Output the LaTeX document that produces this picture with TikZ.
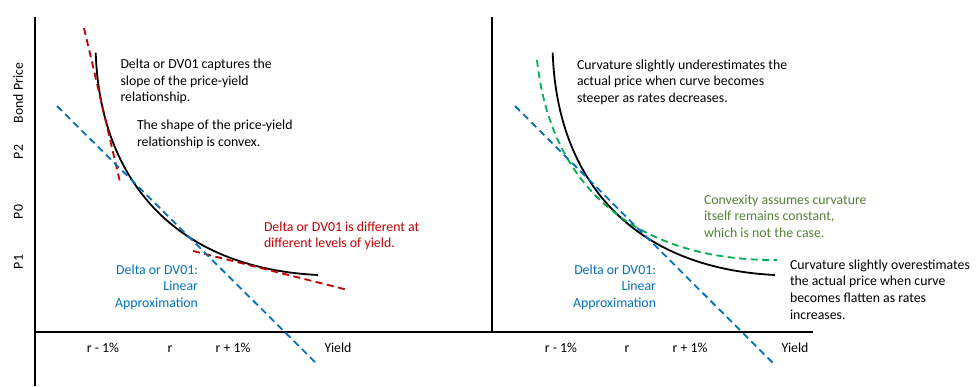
\documentclass[tikz,border=0pt]{standalone}
\usepackage{fontspec}
\setmainfont{Carlito}
\definecolor{dred}{HTML}{C00000}
\definecolor{dblue}{HTML}{0070C0}
\definecolor{dgreen}{HTML}{00B050}
\definecolor{tgreen}{HTML}{538135}
\newcommand{\mlinesl}[1]{\begin{tabular}[t]{@{}l@{}}#1\end{tabular}}
\tikzset{
  axisline/.style={line width=1.8pt, black},
  bondline/.style={line width=1.8pt, black},
  tangent/.style={line width=1.8pt, dash pattern=on 7pt off 4.5pt},
  lbl/.style={inner sep=0pt, outer sep=0pt, font=\fontsize{13.8}{16.8}\selectfont},
}
\begin{document}
\begin{tikzpicture}[x=1pt,y=-1pt]
\useasboundingbox (0,0) rectangle (980,386);
\fill[white] (0,0) rectangle (980,386);
% axes
\draw[axisline] (35,17) -- (35,386);
\draw[axisline] (35,332) -- (813,332);
\draw[axisline] (492,17) -- (492,332);
% left panel curves
\draw[bondline] (95.7,52.7) .. controls (100,180) and (175,268) .. (318,275);
\draw[tangent, dred] (84,28) -- (120,182);
\draw[tangent, dred] (193,251) -- (348,290);
\draw[tangent, dblue] (57,106) -- (318,365);
% right panel curves
\draw[bondline] (552.7,52.7) .. controls (557,180) and (632,268) .. (775,275);
\draw[tangent, dgreen] (537,60) .. controls (552,200) and (650,261) .. (777,260);
\draw[tangent, dblue] (515,106) -- (775,365);
% y labels
\node[lbl, rotate=90, anchor=base] (bp) at (23,93) {Bond Price};
\node[lbl, rotate=90, anchor=base] (p2) at (23,152) {P2};
\node[lbl, rotate=90, anchor=base] (p0) at (23,212) {P0};
\node[lbl, rotate=90, anchor=base] (p1) at (23,262) {P1};
% x labels left
\node[lbl, anchor=base] (lrm) at (103,352) {r - 1\%};
\node[lbl, anchor=base] (lr) at (170,352) {r};
\node[lbl, anchor=base] (lrp) at (233,352) {r + 1\%};
\node[lbl, anchor=base] (lyield) at (338,352) {Yield};
% x labels right
\node[lbl, anchor=base] (rrm) at (561,352) {r - 1\%};
\node[lbl, anchor=base] (rr) at (627,352) {r};
\node[lbl, anchor=base] (rrp) at (690,352) {r + 1\%};
\node[lbl, anchor=base] (ryield) at (795,352) {Yield};
% left texts
\node[lbl, anchor=base west] (t1) at (120.5,68.3) {\mlinesl{Delta or DV01 captures the\\slope of the price-yield\\relationship.}};
\node[lbl, anchor=base west] (t2) at (137,129.5) {\mlinesl{The shape of the price-yield\\relationship is convex.}};
\node[lbl, anchor=base east, text=dblue] (t3a) at (198,274) {Delta or DV01:};
\node[lbl, anchor=base east, text=dblue] (t3b) at (198,290.8) {Linear};
\node[lbl, anchor=base east, text=dblue] (t3c) at (198,307.6) {Approximation};
\node[lbl, anchor=base west, text=dred] (t4) at (264,231) {\mlinesl{Delta or DV01 is different at\\different levels of yield.}};
% right texts
\node[lbl, anchor=base west] (t5) at (577,69) {\mlinesl{Curvature slightly underestimates the\\actual price when curve becomes\\steeper as rates decreases.}};
\node[lbl, anchor=base west, text=tgreen] (t6) at (704,204) {\mlinesl{Convexity assumes curvature\\itself remains constant,\\which is not the case.}};
\node[lbl, anchor=base west] (t7) at (790,269) {\mlinesl{Curvature slightly overestimates\\the actual price when curve\\becomes flatten as rates\\increases.}};
\node[lbl, anchor=base east, text=dblue] (t8a) at (656,274) {Delta or DV01:};
\node[lbl, anchor=base east, text=dblue] (t8b) at (656,290.8) {Linear};
\node[lbl, anchor=base east, text=dblue] (t8c) at (656,307.6) {Approximation};
\end{tikzpicture}
\end{document}
